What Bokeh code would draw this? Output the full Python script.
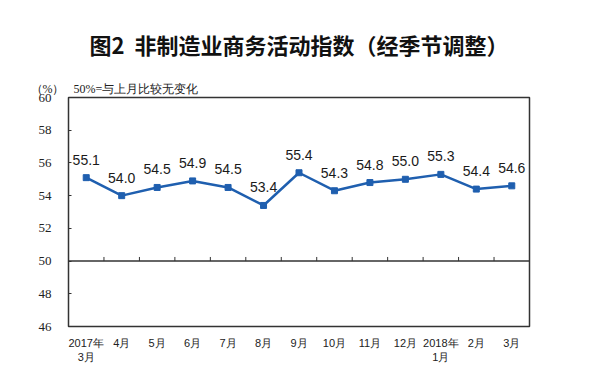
from bokeh.plotting import figure
from bokeh.models import Span, FixedTicker, Range1d, ColumnDataSource, Title
from bokeh.core.properties import value
from bokeh.embed import file_html
from bokeh.resources import INLINE

categories = ["2017年\n3月", "4月", "5月", "6月", "7月", "8月", "9月", "10月",
              "11月", "12月", "2018年\n1月", "2月", "3月"]
values = [55.1, 54.0, 54.5, 54.9, 54.5, 53.4, 55.4, 54.3, 54.8, 55.0, 55.3, 54.4, 54.6]
y_ticks = [46, 48, 50, 52, 54, 56, 58, 60]
title_text = "图2\u00a0\u00a0非制造业商务活动指数（经季节调整）"
note_text = "（%）\u00a0\u00a0\u00a050%=与上月比较无变化"

n = len(categories)
xs = [i + 0.5 for i in range(n)]
src = ColumnDataSource(dict(x=xs, y=values, lab=[f"{v:.1f}" for v in values]))

p = figure(width=585, height=382, frame_width=461, frame_height=229,
           x_range=Range1d(0, n), y_range=Range1d(46, 60),
           output_backend="svg", toolbar_location=None,
           min_border_left=68, min_border_right=56, min_border_top=97, min_border_bottom=56)
p.background_fill_color = "white"
p.border_fill_color = "white"
p.outline_line_color = "#333333"
p.outline_line_width = 1.5
p.xgrid.visible = False
p.ygrid.visible = False

# y axis
p.yaxis.ticker = FixedTicker(ticks=y_ticks)
p.yaxis.axis_line_color = None
p.yaxis.major_tick_in = 3
p.yaxis.major_tick_out = 0
p.yaxis.minor_tick_line_color = None
p.yaxis.major_tick_line_color = "#333333"
p.yaxis.major_label_standoff = 17
p.yaxis.major_label_text_font = "Liberation Serif"
p.yaxis.major_label_text_font_size = "13px"
p.yaxis.major_label_text_color = "#222222"

# x axis
p.xaxis.ticker = FixedTicker(ticks=xs)
p.xaxis.major_label_overrides = {x: c for x, c in zip(xs, categories)}
p.xaxis.axis_line_color = None
p.xaxis.major_tick_line_color = None
p.xaxis.minor_tick_line_color = None
p.xaxis.major_label_standoff = 4
p.xaxis.major_label_text_font = "Liberation Sans"
p.xaxis.major_label_text_font_size = "11px"
p.xaxis.major_label_text_color = "#222222"

# 50 line with category ticks
p.add_layout(Span(location=50, dimension="width", line_color="#333333", line_width=1.5))
bounds = list(range(1, n))
p.segment(x0=bounds, x1=bounds, y0=[50] * len(bounds), y1=[50.25] * len(bounds),
          line_color="#333333", line_width=1)

blue = "#1F5FAF"
p.line("x", "y", source=src, line_color=blue, line_width=2.5)
p.scatter("x", "y", source=src, marker="square", size=6, fill_color=blue, line_color=blue)
p.text("x", "y", text="lab", source=src, text_align="center", text_baseline="middle",
       y_offset=-18, text_font=value("Liberation Sans"), text_font_size="14px",
       text_color="#1a1a1a")

p.add_layout(Title(text=note_text, align="left", offset=-38, standoff=3,
                   text_font="Liberation Serif", text_font_size="12px",
                   text_font_style="normal", text_color="#222222"), "above")
p.add_layout(Title(text=title_text, align="center", offset=0, standoff=37,
                   text_font="Noto Sans CJK SC", text_font_size="22px",
                   text_font_style="bold", text_color="#111111"), "above")

open("out.html", "w").write(file_html(p, INLINE))
